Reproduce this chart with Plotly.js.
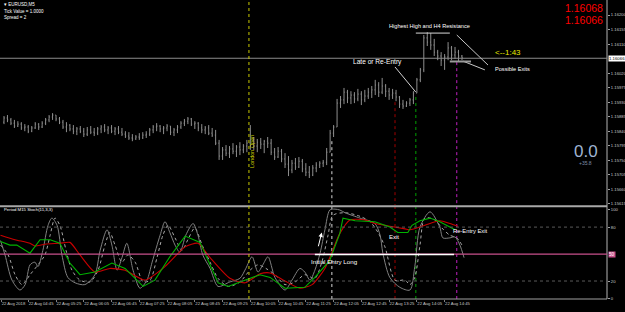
<!DOCTYPE html>
<html>
<head>
<meta charset="utf-8">
<script src="https://cdn.plot.ly/plotly-3.0.1.min.js"></script>
<style>html,body{margin:0;padding:0;background:#000;}#chart{width:625px;height:312px;}</style>
</head>
<body>
<div id="chart"></div>
<script>
// ---- EURUSD M5 bars (22 Aug 2018, from 04:10) ----
const barOpen = [1.15868,1.15881,1.15875,1.15865,1.15856,1.15862,1.15850,1.15853,1.15840,1.15850,
1.15862,1.15853,1.15865,1.15875,1.15884,1.15890,1.15878,1.15868,1.15853,1.15859,
1.15847,1.15840,1.15847,1.15840,1.15831,1.15844,1.15837,1.15834,1.15847,1.15853,
1.15844,1.15850,1.15840,1.15847,1.15837,1.15831,1.15825,1.15819,1.15816,1.15822,
1.15819,1.15828,1.15831,1.15844,1.15853,1.15856,1.15847,1.15850,1.15856,1.15837,
1.15844,1.15853,1.15865,1.15871,1.15878,1.15862,1.15865,1.15850,1.15844,1.15850,
1.15834,1.15828,1.15803,1.15763,1.15782,1.15772,1.15785,1.15778,1.15791,1.15782,
1.15794,1.15803,1.15813,1.15794,1.15806,1.15800,1.15809,1.15803,1.15775,1.15760,
1.15778,1.15754,1.15738,1.15720,1.15741,1.15729,1.15747,1.15723,1.15713,1.15704,
1.15726,1.15735,1.15741,1.15744,1.15775,1.15834,1.15853,1.15927,1.15937,1.15961,
1.15943,1.15952,1.15940,1.15955,1.15937,1.15949,1.15961,1.15968,1.15983,1.15961,
1.15980,1.15964,1.15952,1.15958,1.15946,1.15924,1.15918,1.15927,1.15937,1.15958,
1.15999,1.16030,1.16129,1.16116,1.16107,1.16085,1.16073,1.16060,1.16070,1.16098,
1.16076,1.16085,1.16073];
const barHigh = [1.15887,1.15890,1.15881,1.15875,1.15871,1.15868,1.15862,1.15859,1.15856,1.15868,
1.15865,1.15871,1.15881,1.15890,1.15896,1.15890,1.15884,1.15875,1.15868,1.15862,
1.15859,1.15853,1.15856,1.15850,1.15853,1.15856,1.15850,1.15853,1.15859,1.15862,
1.15856,1.15859,1.15853,1.15856,1.15850,1.15840,1.15837,1.15831,1.15828,1.15834,
1.15837,1.15840,1.15850,1.15859,1.15865,1.15859,1.15856,1.15862,1.15856,1.15850,
1.15859,1.15871,1.15878,1.15884,1.15881,1.15871,1.15868,1.15862,1.15856,1.15859,
1.15850,1.15844,1.15813,1.15791,1.15797,1.15794,1.15803,1.15797,1.15806,1.15800,
1.15813,1.15859,1.15822,1.15816,1.15819,1.15813,1.15822,1.15816,1.15788,1.15791,
1.15785,1.15772,1.15763,1.15751,1.15757,1.15760,1.15754,1.15741,1.15732,1.15735,
1.15744,1.15747,1.15751,1.15788,1.15844,1.15859,1.15940,1.15949,1.15974,1.15968,
1.15964,1.15961,1.15971,1.15964,1.15968,1.15974,1.15980,1.15999,1.15992,1.16005,
1.15986,1.15974,1.15971,1.15968,1.15949,1.15937,1.15933,1.15943,1.15964,1.16005,
1.16036,1.16138,1.16147,1.16144,1.16126,1.16092,1.16085,1.16079,1.16116,1.16104,
1.16101,1.16092,1.16076];
const barLow = [1.15862,1.15868,1.15859,1.15850,1.15853,1.15844,1.15840,1.15834,1.15837,1.15847,
1.15844,1.15850,1.15859,1.15868,1.15875,1.15871,1.15862,1.15847,1.15837,1.15840,
1.15831,1.15828,1.15834,1.15822,1.15825,1.15831,1.15825,1.15828,1.15834,1.15837,
1.15831,1.15834,1.15828,1.15831,1.15825,1.15819,1.15813,1.15809,1.15813,1.15813,
1.15816,1.15819,1.15825,1.15834,1.15840,1.15837,1.15831,1.15840,1.15828,1.15825,
1.15834,1.15847,1.15856,1.15862,1.15856,1.15847,1.15840,1.15834,1.15831,1.15828,
1.15822,1.15797,1.15751,1.15751,1.15763,1.15757,1.15769,1.15760,1.15766,1.15772,
1.15775,1.15782,1.15782,1.15775,1.15785,1.15772,1.15788,1.15766,1.15751,1.15757,
1.15744,1.15726,1.15701,1.15710,1.15720,1.15726,1.15713,1.15701,1.15695,1.15701,
1.15713,1.15726,1.15729,1.15735,1.15775,1.15822,1.15853,1.15912,1.15924,1.15927,
1.15924,1.15927,1.15933,1.15921,1.15930,1.15940,1.15943,1.15952,1.15946,1.15955,
1.15946,1.15937,1.15940,1.15933,1.15912,1.15909,1.15915,1.15918,1.15924,1.15958,
1.15992,1.16023,1.16104,1.16092,1.16073,1.16060,1.16042,1.16030,1.16060,1.16060,
1.16064,1.16057,1.16060];
const barClose = [1.15881,1.15875,1.15865,1.15856,1.15862,1.15850,1.15853,1.15840,1.15850,1.15862,
1.15853,1.15865,1.15875,1.15884,1.15890,1.15878,1.15868,1.15853,1.15859,1.15847,
1.15840,1.15847,1.15840,1.15831,1.15844,1.15837,1.15834,1.15847,1.15853,1.15844,
1.15850,1.15840,1.15847,1.15837,1.15831,1.15825,1.15819,1.15816,1.15822,1.15819,
1.15828,1.15831,1.15844,1.15853,1.15856,1.15847,1.15850,1.15856,1.15837,1.15844,
1.15853,1.15865,1.15871,1.15878,1.15862,1.15865,1.15850,1.15844,1.15850,1.15834,
1.15828,1.15803,1.15763,1.15782,1.15772,1.15785,1.15778,1.15791,1.15782,1.15794,
1.15803,1.15813,1.15794,1.15806,1.15800,1.15809,1.15803,1.15775,1.15760,1.15778,
1.15754,1.15738,1.15720,1.15741,1.15729,1.15747,1.15723,1.15713,1.15704,1.15726,
1.15735,1.15741,1.15744,1.15775,1.15834,1.15853,1.15927,1.15937,1.15961,1.15943,
1.15952,1.15940,1.15955,1.15937,1.15949,1.15961,1.15968,1.15983,1.15961,1.15980,
1.15964,1.15952,1.15958,1.15946,1.15924,1.15918,1.15927,1.15937,1.15958,1.15999,
1.16030,1.16129,1.16116,1.16107,1.16085,1.16073,1.16060,1.16070,1.16098,1.16076,
1.16085,1.16073,1.16067];

// ---- Stochastic oscillator lines (x = bar index, y = value) ----
const stochMainX = [-1,0.3,2.3,4.6,6.1,7.5,8.9,9.8,11.2,12.7,13.8,15.3,16.7,18.4,20.5,23.3,26.2,27.7,29.7,31.1,32.6,34.0,35.4,37.2,39.2,41.2,42.7,45.0,46.4,47.8,49.3,50.7,52.4,54.5,55.9,57.3,59.4,61.7,65.1,68.0,69.7,71.5,73.2,74.6,76.1,78.1,81.0,83.0,85.3,86.7,88.2,89.6,91.1,92.5,93.9,95.4,96.8,98.3,102.6,106.9,108.4,109.2,111.2,114.1,117.0,118.4,119.9,122.8,125.6,126.5,128.5,130.0,131.4,132.6];
const stochMainY = [65,49,21,10,16,38,41,36,54,82,90,82,49,24,18,16,27,54,77,60,32,46,62,32,12,21,41,71,86,74,60,52,71,84,71,49,34,14,19,23,34,47,30,38,47,24,10,21,34,30,21,32,51,77,99,100,99,96,90,84,71,51,24,13,10,36,80,97,80,68,68,69,60,46];
const stochSigX = [-1,1.2,3.2,5.2,7.5,9.8,11.8,13.3,14.7,16.1,17.9,19.6,21.9,24.8,27.1,29.1,30.5,32.0,34.0,35.7,37.8,40.1,42.1,44.1,45.8,47.3,49.3,51.3,53.0,55.0,57.1,59.4,61.7,64.6,68.0,70.9,73.2,75.5,78.1,81.0,83.9,86.7,89.6,91.6,93.4,94.8,98.3,102.6,105.5,107.8,109.8,112.7,115.6,117.0,118.4,119.9,121.3,124.2,126.2,128.5,130.5,132.0];
const stochSigY = [60,49,27,16,27,38,49,71,90,82,54,32,21,19,32,60,74,60,41,49,41,19,21,46,71,82,68,54,66,79,60,41,23,14,19,32,38,34,27,16,19,27,23,41,71,93,96,92,86,74,58,21,21,16,24,60,90,88,79,71,68,60];
const m15MainX = [-1,1.7,3.7,7.5,10.4,13.3,16.1,19.0,21.9,26.2,31.1,34.9,40.1,43.5,47.8,52.2,56.5,59.4,61.7,64.6,69.5,73.8,76.7,81.0,86.7,89.6,93.9,96.8,97.7,101.2,106.9,111.2,113.5,116.4,117.6,119.9,122.8,125.6,130.0];
const m15MainY = [64,60,60,51,66,66,62,40,27,30,40,34,14,21,47,70,63,38,18,14,21,27,24,12,13,24,43,73,90,87,86,80,74,74,82,87,90,86,77];
const m15SigX = [-1,3.2,7.5,8.9,11.8,16.1,19.0,21.9,26.2,30.5,34.9,40.6,46.4,52.2,55.9,59.4,65.1,69.5,73.8,76.7,81.0,85.3,88.8,92.5,96.8,99.7,104.0,106.9,111.2,115.6,117.0,121.3,125.6,128.5,130.8];
const m15SigY = [71,66,62,59,61,62,63,49,30,34,32,21,36,58,62,46,23,18,28,29,20,12,16,34,73,88,88,84,81,78,77,82,87,84,81];

// ---- axis ticks ----
const timeTickIdx = [-0.8,7,15,23,31,39,47,55,63,71,79,87,95,103,111,119,127];
const timeTickText = ["22 Aug 2018","22 Aug 04:45","22 Aug 05:25","22 Aug 06:05","22 Aug 06:45","22 Aug 07:25","22 Aug 08:05","22 Aug 08:45","22 Aug 09:25","22 Aug 10:05","22 Aug 10:45","22 Aug 11:25","22 Aug 12:05","22 Aug 12:45","22 Aug 13:25","22 Aug 14:05","22 Aug 14:45"];
const priceTicks = [1.16200,1.16155,1.16110,1.16020,1.15975,1.15930,1.15885,1.15840,1.15795,1.15750,1.15705,1.15660,1.15615];
const oscTicks = [0,20,80,100];

// ---- marker levels ----
const bidPrice = 1.16066, askPrice = 1.16068;
const londonOpenIdx = 70.6;
const entryIdx = 94.5, entryPrice = 1.15809;
const exitIdx = 112.7, exitPrice = 1.15930;
const reentryIdx = 118.7, reentryPrice = 1.15946;
const reexitIdx = 130.5, reexitPrice = 1.16054;
const highLevel = 1.16144;

const mainMin = 1.15611, mainMax = 1.162465;
const oscMax = 102.8;
const idx = barOpen.map((_, i) => i);
const font = "Liberation Sans, Arial, sans-serif";

const traces = [
  {type:'ohlc', x:idx, open:barOpen, high:barHigh, low:barLow, close:barClose,
   xaxis:'x', yaxis:'y', tickwidth:0.22,
   increasing:{line:{color:'#8e8e8e', width:1}}, decreasing:{line:{color:'#8e8e8e', width:1}},
   hoverinfo:'skip', showlegend:false},
  {type:'scatter', mode:'lines', x:stochSigX, y:stochSigY, xaxis:'x', yaxis:'y2',
   line:{color:'#a8a8a8', width:1, dash:'dot', shape:'spline', smoothing:0.8}, showlegend:false, hoverinfo:'skip'},
  {type:'scatter', mode:'lines', x:stochMainX, y:stochMainY, xaxis:'x', yaxis:'y2',
   line:{color:'#808080', width:1, shape:'spline', smoothing:0.8}, showlegend:false, hoverinfo:'skip'},
  {type:'scatter', mode:'lines', x:m15SigX, y:m15SigY, xaxis:'x', yaxis:'y2',
   line:{color:'#c80000', width:1.1, shape:'spline', smoothing:0.6}, showlegend:false, hoverinfo:'skip'},
  {type:'scatter', mode:'lines', x:m15MainX, y:m15MainY, xaxis:'x', yaxis:'y2',
   line:{color:'#00b400', width:1.1}, showlegend:false, hoverinfo:'skip'}
];

function vline(x, yref, y0, y1, color, dash) {
  return {type:'line', xref:'x', yref:yref, x0:x, x1:x, y0:y0, y1:y1, line:{color:color, width:1, dash:dash||'dot'}, layer:'below'};
}
function seg(x0, y0, x1, y1, yref, color, width) {
  return {type:'line', xref:'x', yref:yref, x0:x0, x1:x1, y0:y0, y1:y1, line:{color:color, width:width||1}};
}

const shapes = [
  {type:'line', xref:'paper', yref:'paper', x0:1, x1:1, y0:0, y1:1, line:{color:'#b4b4b4', width:1}},
  {type:'line', xref:'paper', yref:'paper', x0:0, x1:1, y0:0.3105, y1:0.3105, line:{color:'#a8a8a8', width:2}},
  {type:'line', xref:'paper', yref:'paper', x0:0, x1:1, y0:0, y1:0, line:{color:'#a0a0a0', width:1}},
  {type:'line', xref:'paper', yref:'y', x0:0, x1:1, y0:bidPrice, y1:bidPrice, line:{color:'#8c8c8c', width:1}},
  {type:'line', xref:'paper', yref:'y2', x0:0, x1:1, y0:80, y1:80, line:{color:'#5a5a5a', width:1, dash:'dot'}},
  {type:'line', xref:'paper', yref:'y2', x0:0, x1:1, y0:20, y1:20, line:{color:'#5a5a5a', width:1, dash:'dot'}},
  {type:'line', xref:'paper', yref:'y2', x0:0, x1:1, y0:50, y1:50, line:{color:'#c8508c', width:1.2}},
  seg(89.6, 49.5, 129.7, 49.5, 'y2', '#ffffff', 1.5),
  {type:'line', xref:'x', yref:'paper', x0:londonOpenIdx, x1:londonOpenIdx, y0:0, y1:1, line:{color:'#c8c800', width:1, dash:'dot'}},
  vline(entryIdx, 'y', entryPrice, mainMin, '#d8d8d8'),
  vline(entryIdx, 'y2', 0, oscMax, '#d8d8d8'),
  vline(exitIdx, 'y', exitPrice, mainMin, '#a00000'),
  vline(exitIdx, 'y2', 0, oscMax, '#a00000'),
  vline(reentryIdx, 'y', reentryPrice, mainMin, '#00a000'),
  vline(reentryIdx, 'y2', 0, oscMax, '#00a000'),
  vline(reexitIdx, 'y', reexitPrice, mainMin, '#c020c0'),
  vline(reexitIdx, 'y2', 0, oscMax, '#c020c0'),
  seg(112.7, 1.16039, 118.7, 1.15961, 'y', '#d0d0d0', 1),
  seg(118.7, highLevel, 128.5, highLevel, 'y', '#d8d8d8', 1),
  seg(130.5, 1.16138, 139.5, 1.16045, 'y', '#c8c8c8', 1),
  seg(132.3, 1.16057, 138.6, 1.16030, 'y', '#c8c8c8', 1),
  seg(128.5, 1.16056, 134.6, 1.16056, 'y', '#9a9a9a', 2)
];

const white = '#ffffff';
const annotations = [
  {xref:'paper', yref:'paper', x:0.004, y:0.9866, xanchor:'left', yanchor:'middle', text:'▾ EURUSD,M5', showarrow:false, font:{family:font, size:4.5, color:white}},
  {xref:'paper', yref:'paper', x:0.004, y:0.9632, xanchor:'left', yanchor:'middle', text:'Tick Value = 1.0000', showarrow:false, font:{family:font, size:4.5, color:white}},
  {xref:'paper', yref:'paper', x:0.004, y:0.9398, xanchor:'left', yanchor:'middle', text:'Spread = 2', showarrow:false, font:{family:font, size:4.5, color:white}},
  {xref:'paper', yref:'paper', x:0.9967, y:0.973, xanchor:'right', yanchor:'middle', text:askPrice.toFixed(5), showarrow:false, font:{family:font, size:10.5, color:'#ff0000'}},
  {xref:'paper', yref:'paper', x:0.9967, y:0.933, xanchor:'right', yanchor:'middle', text:bidPrice.toFixed(5), showarrow:false, font:{family:font, size:10.5, color:'#ff0000'}},
  {xref:'paper', yref:'paper', x:0.9646, y:0.493, xanchor:'center', yanchor:'middle', text:'0.0', showarrow:false, font:{family:font, size:17, color:'#9fb4d2'}},
  {xref:'paper', yref:'paper', x:0.9646, y:0.455, xanchor:'center', yanchor:'middle', text:'+35.8', showarrow:false, font:{family:font, size:5, color:'#7f8ea8'}},
  {xref:'x', yref:'y', x:145.2, y:1.16085, text:'<--1:43', showarrow:false, font:{family:font, size:8, color:'#e8e800'}},
  {xref:'x', yref:'y', x:122.5, y:1.16166, text:'Highest High and H4 Resistance', showarrow:false, font:{family:font, size:5.6, color:white}},
  {xref:'x', yref:'y', x:107.6, y:1.16054, text:'Late or Re-Entry', showarrow:false, font:{family:font, size:6.6, color:white}},
  {xref:'x', yref:'y', x:146.5, y:1.16033, text:'Possible Exits', showarrow:false, font:{family:font, size:5.6, color:white}},
  {xref:'x', yref:'y', x:71.4, y:1.15778, text:'London Open', textangle:-90, showarrow:false, font:{family:font, size:5.5, color:'#d4d400'}},
  {xref:'paper', yref:'paper', x:0.004, y:0.2977, xanchor:'left', yanchor:'middle', text:'Period M15 Stoch(11,3,3)', showarrow:false, font:{family:font, size:4.3, color:white}},
  {xref:'x', yref:'y2', x:95.4, y:42, text:'Initial Entry Long', showarrow:false, font:{family:font, size:6.2, color:white}},
  {xref:'x', yref:'y2', x:112.4, y:69, text:'Exit', showarrow:false, font:{family:font, size:6, color:white}},
  {xref:'x', yref:'y2', x:134.6, y:75.6, text:'Re-Entry Exit', showarrow:false, font:{family:font, size:5.8, color:white}},
  {xref:'x', yref:'y2', x:91.6, y:74, axref:'x', ayref:'y2', ax:90.5, ay:57, text:'', showarrow:true, arrowhead:2, arrowsize:0.9, arrowwidth:1, arrowcolor:white},
  {xref:'paper', yref:'y', x:1, y:bidPrice, xanchor:'left', yanchor:'middle', xshift:1, text:bidPrice.toFixed(5), showarrow:false, bgcolor:'#ffffff', borderpad:0, font:{family:font, size:4.3, color:'#000000'}},
  {xref:'paper', yref:'y2', x:1, y:50, xanchor:'left', yanchor:'middle', xshift:1, text:'50', showarrow:false, bgcolor:'#c8508c', borderpad:0, font:{family:font, size:4.5, color:'#ffffff'}}
];

const layout = {
  width:625, height:312,
  margin:{l:0, r:18, t:0, b:13},
  paper_bgcolor:'#000000', plot_bgcolor:'#000000',
  showlegend:false,
  xaxis:{range:[-1.15, 173.8], anchor:'y2', tickmode:'array', tickvals:timeTickIdx, ticktext:timeTickText,
         tickangle:0, ticklabelposition:'outside right', ticklabeloverflow:'allow', tickfont:{family:font, size:4.2, color:'#c8c8c8'},
         ticks:'outside', ticklen:2, tickcolor:'#808080', showgrid:false, zeroline:false, showline:false,
         rangeslider:{visible:false}, fixedrange:true, automargin:false},
  yaxis:{domain:[0.314, 1], range:[mainMin, mainMax], side:'right', anchor:'x', tickmode:'array',
         tickvals:priceTicks, ticktext:priceTicks.map(v => v.toFixed(5)),
         tickfont:{family:font, size:4.2, color:'#c8c8c8'}, ticks:'outside', ticklen:2, tickcolor:'#a0a0a0',
         showgrid:false, zeroline:false, showline:false, fixedrange:true},
  yaxis2:{domain:[0, 0.309], range:[0, oscMax], side:'right', anchor:'x', tickmode:'array',
         tickvals:oscTicks, ticktext:oscTicks.map(String),
         tickfont:{family:font, size:4.2, color:'#c8c8c8'}, ticks:'outside', ticklen:2, tickcolor:'#a0a0a0',
         showgrid:false, zeroline:false, showline:false, fixedrange:true},
  shapes:shapes,
  annotations:annotations
};

Plotly.newPlot('chart', traces, layout, {staticPlot:true, displayModeBar:false});
</script>
</body>
</html>
